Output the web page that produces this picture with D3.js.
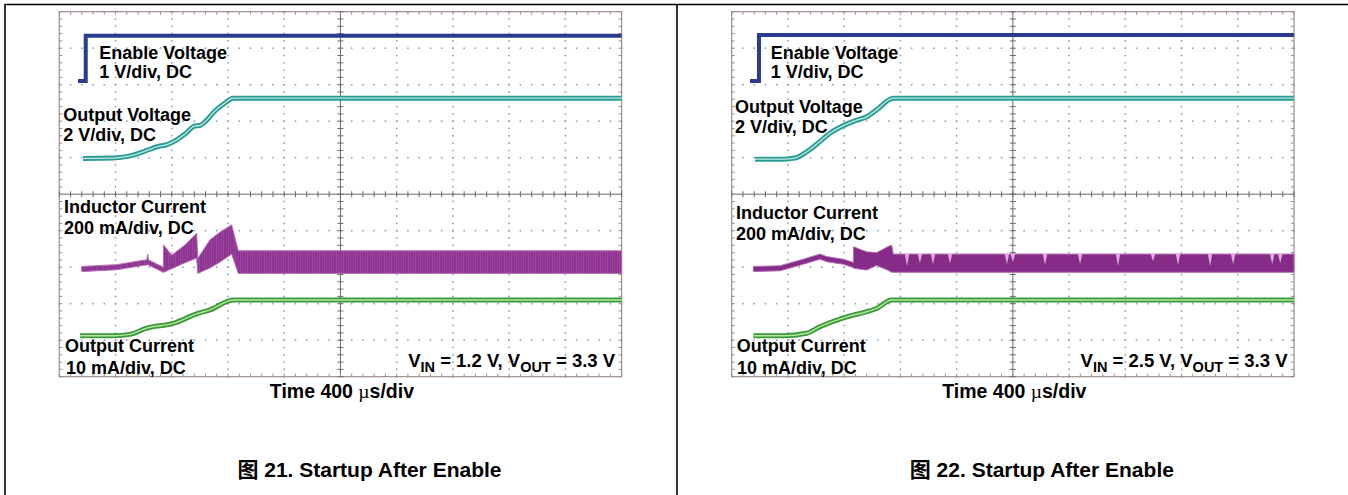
<!DOCTYPE html>
<html>
<head>
<meta charset="utf-8">
<script src="https://cdn.jsdelivr.net/npm/d3@7"></script>
<style>
  html, body { margin: 0; padding: 0; background: #fff; }
  svg { display: block; font-family: "Liberation Sans", Arial, "Noto Sans CJK SC", sans-serif; font-weight: bold; }
  text { white-space: pre; }
</style>
</head>
<body>
<div id="chart"></div>
<script>
// time in µs (400 µs/div, 10 div), amplitude in screen divisions (0 = bottom, 10 = top)

// Figure 21: VIN = 1.2 V
const enable21 = [[133, 8.10], [188, 8.10], [188, 9.34], [4000, 9.34]];
const vout21 = [[169, 5.98], [382, 5.99], [503, 6.05], [610, 6.18], [695, 6.30], [766, 6.36], [823, 6.46],
  [894, 6.65], [966, 6.87], [1000, 6.88], [1036, 6.98], [1107, 7.28], [1179, 7.50], [1235, 7.63], [4000, 7.63]];
const iout21 = [[147, 1.12], [384, 1.12], [503, 1.16], [622, 1.33], [811, 1.46], [977, 1.72], [1072, 1.83],
  [1238, 2.10], [4000, 2.10]];
// inductor current envelope: [time, low, high]
const il21 = [[160, 2.88, 3.02], [408, 2.93, 3.07], [597, 3.05, 3.19], [622, 3.06, 3.20], [629, 3.07, 3.36],
  [634, 3.06, 3.20], [645, 3.04, 3.18], [740, 2.86, 3.00], [742, 2.86, 3.61], [800, 2.96, 3.33],
  [894, 3.12, 3.61], [977, 3.25, 3.93], [985, 2.83, 3.24], [1072, 2.98, 3.75], [1143, 3.14, 3.96],
  [1226, 3.36, 4.16], [1273, 2.83, 3.45], [4000, 2.83, 3.45]];
const dips21 = [];

// Figure 22: VIN = 2.5 V
const enable22 = [[130, 8.10], [194, 8.10], [194, 9.36], [4000, 9.36]];
const vout22 = [[166, 5.96], [367, 5.96], [450, 5.99], [533, 6.16], [614, 6.40], [699, 6.67], [818, 6.92],
  [884, 7.02], [960, 7.12], [1031, 7.31], [1149, 7.63], [4000, 7.63]];
const iout22 = [[154, 1.12], [367, 1.12], [533, 1.19], [628, 1.37], [818, 1.64], [960, 1.78], [1031, 1.87],
  [1138, 2.10], [4000, 2.10]];
const il22 = [[154, 2.88, 3.02], [343, 2.90, 3.04], [509, 3.08, 3.22], [628, 3.22, 3.36], [676, 3.15, 3.29],
  [794, 3.08, 3.22], [865, 2.99, 3.13], [867, 2.97, 3.56], [960, 2.92, 3.42], [1031, 3.05, 3.40],
  [1120, 2.90, 3.58], [1138, 2.86, 3.60], [1150, 2.86, 3.36], [4000, 2.86, 3.36]];
// light dropouts hanging from the top of the switching band: [time, depth]
const dips22 = [[1247, 0.33], [1339, 0.25], [1432, 0.28], [1553, 0.25], [1958, 0.28], [2000, 0.22],
  [2229, 0.30], [2478, 0.27], [2748, 0.33], [2997, 0.20], [3175, 0.30], [3403, 0.33], [3567, 0.28],
  [3845, 0.28], [3902, 0.25]];

// text
const traceLabels = [['Enable Voltage', '1 V/div, DC'], ['Output Voltage', '2 V/div, DC'],
  ['Inductor Current', '200 mA/div, DC'], ['Output Current', '10 mA/div, DC']];
const vinLabels = ['1.2', '2.5'];
const voutLabel = '3.3';
const figNumbers = ['21', '22'];
const figTitle = 'Startup After Enable';
const timeDiv = 400;

// layout
const W = 1348, H = 495;
const scopeTop = 11.7, scopeBottom = 376.7, scopeW = 562.3;
const labelPos = [
  [[99.3, 58.7], [99.3, 78.3], [63.3, 120.7], [63.3, 141], [64, 213.3], [64, 234], [65, 352.3], [66, 374.3]],
  [[770.7, 58.7], [770.7, 78.3], [735, 113.3], [735, 132.7], [736, 219.3], [736, 240], [736.7, 352.3], [737, 374.3]]
];

const svg = d3.select('#chart').append('svg')
  .attr('width', W)
  .attr('height', H);

const defs = svg.append('defs');
const pat = defs.append('pattern')
  .attr('id', 'stripes')
  .attr('patternUnits', 'userSpaceOnUse')
  .attr('width', 2.4)
  .attr('height', 10);
pat.append('rect').attr('width', 2.4).attr('height', 10).attr('fill', '#8c3190');
pat.append('rect').attr('width', 0.7).attr('height', 10).attr('fill', '#a04ea2');

// page rules
svg.append('path')
  .attr('d', `M5,${H}V4.5H${W} M677,4.5V${H}`)
  .attr('fill', 'none')
  .attr('stroke', '#000')
  .attr('stroke-width', 1.6);

function drawScope(idx, x0, fig) {
  const g = svg.append('g');
  const x = d3.scaleLinear().domain([0, 10 * timeDiv]).range([x0, x0 + scopeW]);
  const y = d3.scaleLinear().domain([0, 10]).range([scopeBottom, scopeTop]);
  const divs = d3.range(1, 10).filter(d => d !== 5);
  const minor = d3.range(0, 10.001, 0.2);

  // dotted graticule
  const dots = [];
  divs.forEach(d => {
    minor.forEach(m => {
      dots.push([x(d * timeDiv), y(m)]);
      dots.push([x(m * timeDiv), y(d)]);
    });
  });
  g.append('g').selectAll('rect').data(dots).enter().append('rect')
    .attr('x', d => d[0] - 0.8)
    .attr('y', d => d[1] - 0.8)
    .attr('width', 1.6)
    .attr('height', 1.6)
    .attr('fill', '#8ea3b9');

  // frame
  g.append('rect')
    .attr('x', x(0)).attr('y', y(10))
    .attr('width', x(4000) - x(0)).attr('height', y(0) - y(10))
    .attr('fill', 'none')
    .attr('stroke', '#9c8c88')
    .attr('stroke-width', 1.2);

  // center cross + ticks
  const cx = x(5 * timeDiv), cy = y(5);
  g.append('line').attr('x1', x(0)).attr('x2', x(4000)).attr('y1', cy).attr('y2', cy)
    .attr('stroke', '#6f6765').attr('stroke-width', 1);
  g.append('line').attr('x1', cx).attr('x2', cx).attr('y1', y(0)).attr('y2', y(10))
    .attr('stroke', '#6f6765').attr('stroke-width', 1);
  const ticks = g.append('g').attr('stroke', '#6f6765').attr('stroke-width', 1);
  minor.forEach(m => {
    const tx = x(m * timeDiv), ty = y(m);
    ticks.append('line').attr('x1', tx).attr('x2', tx).attr('y1', cy - 3).attr('y2', cy + 3);
    ticks.append('line').attr('x1', cx - 3).attr('x2', cx + 3).attr('y1', ty).attr('y2', ty);
    ticks.append('line').attr('x1', tx).attr('x2', tx).attr('y1', y(10)).attr('y2', y(10) + 3).attr('stroke', '#9c8c88');
    ticks.append('line').attr('x1', tx).attr('x2', tx).attr('y1', y(0)).attr('y2', y(0) - 3).attr('stroke', '#9c8c88');
    ticks.append('line').attr('x1', x(0)).attr('x2', x(0) + 3).attr('y1', ty).attr('y2', ty).attr('stroke', '#9c8c88');
    ticks.append('line').attr('x1', x(4000)).attr('x2', x(4000) - 3).attr('y1', ty).attr('y2', ty).attr('stroke', '#9c8c88');
  });

  const line = d3.line().x(d => x(d[0])).y(d => y(d[1]));
  const smooth = d3.line().x(d => x(d[0])).y(d => y(d[1])).curve(d3.curveMonotoneX);
  const area = d3.area().x(d => x(d[0])).y0(d => y(d[1])).y1(d => y(d[2]));

  // inductor current
  g.append('path').attr('d', area(fig.il))
    .attr('fill', idx === 0 ? 'url(#stripes)' : '#862b88')
    .attr('stroke', '#b46fb4').attr('stroke-width', 1);
  const top = fig.il[fig.il.length - 1][2];
  g.append('g').selectAll('path').data(fig.dips).enter().append('path')
    .attr('d', d => `M${x(d[0] - 16)},${y(top)}L${x(d[0] + 16)},${y(top)}L${x(d[0])},${y(top - d[1])}Z`)
    .attr('fill', '#dcaedb');

  // output current
  g.append('path').attr('d', smooth(fig.iout)).attr('fill', 'none')
    .attr('stroke', '#3a9a3a').attr('stroke-width', 5);
  g.append('path').attr('d', smooth(fig.iout)).attr('fill', 'none')
    .attr('stroke', '#b6e69c').attr('stroke-width', 1.4);

  // output voltage
  g.append('path').attr('d', smooth(fig.vout)).attr('fill', 'none')
    .attr('stroke', '#2a9c94').attr('stroke-width', 5);
  g.append('path').attr('d', smooth(fig.vout)).attr('fill', 'none')
    .attr('stroke', '#bfe8e3').attr('stroke-width', 1.3);

  // enable
  g.append('path').attr('d', line(fig.enable)).attr('fill', 'none')
    .attr('stroke', '#2b3b8f').attr('stroke-width', 4);

  // labels
  const flat = traceLabels.flat();
  flat.forEach((t, i) => {
    g.append('text')
      .attr('x', labelPos[idx][i][0])
      .attr('y', labelPos[idx][i][1])
      .style('font-size', '18px')
      .text(t);
  });

  const v = g.append('text')
    .attr('x', x(4000) - 6.5)
    .attr('y', 366.7)
    .attr('text-anchor', 'end')
    .style('font-size', '18.5px');
  v.append('tspan').text('V');
  v.append('tspan').attr('dy', 5).style('font-size', '14.5px').text('IN');
  v.append('tspan').attr('dy', -5).text(` = ${vinLabels[idx]} V, V`);
  v.append('tspan').attr('dy', 5).style('font-size', '14.5px').text('OUT');
  v.append('tspan').attr('dy', -5).text(` = ${voutLabel} V`);

  const tl = g.append('text')
    .attr('x', cx + 1.5)
    .attr('y', 398.3)
    .attr('text-anchor', 'middle')
    .style('font-size', '19.5px');
  tl.append('tspan').text(`Time ${timeDiv} `);
  tl.append('tspan').style('font-weight', 'normal').style('font-family', '"Liberation Serif", serif').text('µ');
  tl.append('tspan').text('s/div');

  g.append('text')
    .attr('x', cx + 29)
    .attr('y', 476.7)
    .attr('text-anchor', 'middle')
    .style('font-size', '21px')
    .text(`图 ${figNumbers[idx]}. ${figTitle}`);
}

drawScope(0, 59.3, { enable: enable21, vout: vout21, iout: iout21, il: il21, dips: dips21 });
drawScope(1, 731.7, { enable: enable22, vout: vout22, iout: iout22, il: il22, dips: dips22 });
</script>
</body>
</html>
